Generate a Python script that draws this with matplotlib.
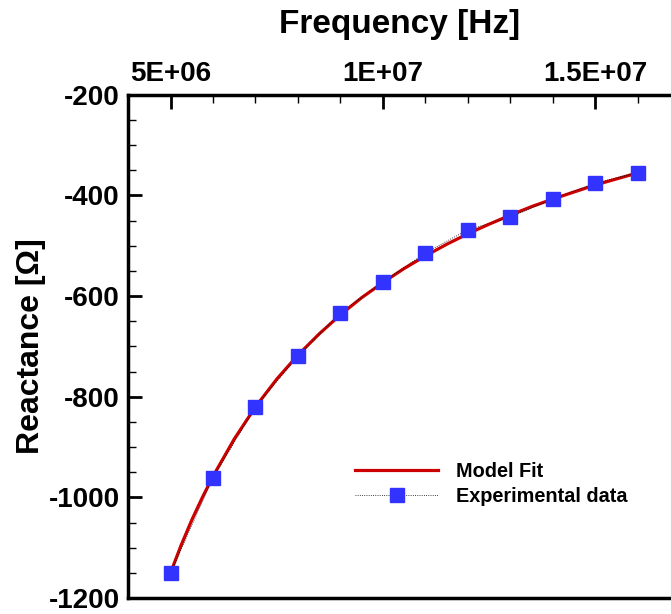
import matplotlib
matplotlib.use('Agg')
import matplotlib.pyplot as plt
from matplotlib.ticker import MultipleLocator, FixedLocator

plt.rcParams['font.family'] = ['Liberation Sans', 'DejaVu Sans']
plt.rcParams['font.weight'] = 'bold'
plt.rcParams['axes.unicode_minus'] = False

# experimental data
freq_data = [5e6, 6e6, 7e6, 8e6, 9e6, 1e7, 1.1e7, 1.2e7, 1.3e7, 1.4e7, 1.5e7, 1.6e7]
react_data = [-1150, -961, -820, -719, -633, -572, -514, -468, -443, -407, -375, -355]

# model fit curve
freq_fit = [5e6, 5.25e6, 5.5e6, 5.75e6, 6e6, 6.5e6, 7e6, 7.5e6, 8e6, 8.5e6, 9e6, 9.5e6,
            1e7, 1.05e7, 1.1e7, 1.15e7, 1.2e7, 1.25e7, 1.3e7, 1.35e7, 1.4e7, 1.45e7,
            1.5e7, 1.55e7, 1.6e7]
react_fit = [-1150, -1095, -1045, -1000, -958, -884, -820, -765, -717, -675, -637, -603,
             -573, -545, -520, -497, -476, -457, -439, -422, -407, -393,
             -379, -367, -355]

xticks = [5e6, 1e7, 1.5e7]
xtick_labels = ['5E+06', '1E+07', '1.5E+07']

fig = plt.figure(figsize=(6.71, 6.14), dpi=100)
ax = fig.add_axes([0.1908, 0.026, 0.8092, 0.8195])

ax.plot(freq_fit, react_fit, color='#cc0000', lw=2.3, label='Model Fit', zorder=2)
ax.plot(freq_data, react_data, color='black', lw=0.6, ls=':', marker='s', ms=10,
        mfc='#3333ff', mec='#3333ff', label='Experimental data', zorder=3)

ax.set_xlim(4e6, 1.678e7)
ax.set_ylim(-1200, -200)

ax.xaxis.tick_top()
ax.xaxis.set_label_position('top')
ax.xaxis.set_major_locator(FixedLocator(xticks))
ax.set_xticklabels(xtick_labels)
ax.xaxis.set_minor_locator(MultipleLocator(1e6))
ax.yaxis.set_major_locator(MultipleLocator(200))
ax.yaxis.set_minor_locator(MultipleLocator(50))

ax.tick_params(which='major', direction='in', length=10, width=2, labelsize=20, pad=6)
ax.tick_params(which='minor', direction='in', length=6, width=1)
ax.tick_params(axis='x', which='both', top=True, bottom=False)
ax.tick_params(axis='y', which='both', left=True, right=False)

for s in ['left', 'top', 'bottom']:
    ax.spines[s].set_linewidth(2.5)
ax.spines['right'].set_visible(False)

ax.set_xlabel('Frequency [Hz]', fontsize=24, fontweight='bold', labelpad=20)
ax.set_ylabel('Reactance [\u03a9]', fontsize=23, fontweight='bold', labelpad=2)

ax.legend(loc='upper left', bbox_to_anchor=(0.385, 0.305), frameon=False,
          fontsize=14.3, handlelength=4.2, handletextpad=0.9, labelspacing=0.3)

fig.savefig('out.png', dpi=100)
